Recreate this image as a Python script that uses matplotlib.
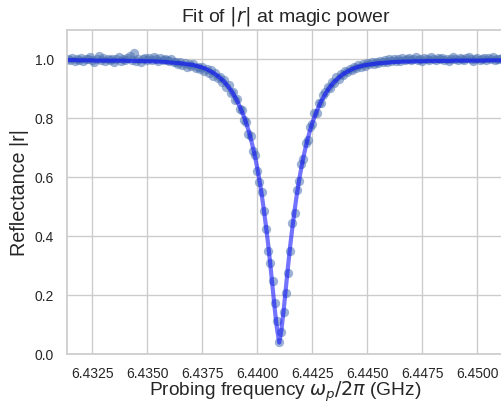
import numpy as np
import matplotlib
matplotlib.use("Agg")
import matplotlib.pyplot as plt
import seaborn as sns

# probing sweep (GHz), 200 points, 100 kHz step
f_start = 6.4314
f_step = 0.0001
n_pts = 200

r_data = [
    1.002, 0.998, 1.004, 0.996, 1.001, 0.999, 1.006, 0.994, 1.003, 1.000,
    1.008, 0.997, 0.993, 1.002, 1.011, 0.999, 1.004, 0.995, 1.001, 0.997,
    1.003, 0.992, 1.000, 1.007, 0.996, 1.002, 0.998, 1.005, 1.013, 0.999,
    1.021, 0.996, 1.003, 0.993, 1.001, 1.006, 0.997, 1.004, 0.999, 1.008,
    1.002, 0.994, 1.005, 0.998, 1.003, 0.999, 0.995, 1.001, 0.993, 0.990,
    0.986, 0.991, 0.982, 0.989, 0.976, 0.985, 0.978, 0.984, 0.971, 0.974,
    0.968, 0.976, 0.962, 0.969, 0.955, 0.963, 0.944, 0.955, 0.936, 0.942,
    0.922, 0.930, 0.905, 0.912, 0.887, 0.889, 0.862, 0.865, 0.832, 0.830,
    0.796, 0.789, 0.748, 0.740, 0.690, 0.677, 0.622, 0.584, 0.552, 0.486,
    0.425, 0.351, 0.310, 0.250, 0.174, 0.112, 0.043, 0.076, 0.144, 0.209,
    0.276, 0.351, 0.445, 0.481, 0.556, 0.588, 0.645, 0.664, 0.716, 0.728,
    0.771, 0.780, 0.817, 0.820, 0.852, 0.853, 0.880, 0.889, 0.907, 0.904,
    0.925, 0.921, 0.940, 0.935, 0.951, 0.947, 0.962, 0.957, 0.969, 0.964,
    0.976, 0.971, 0.981, 0.975, 0.985, 0.979, 0.987, 0.983, 0.990, 0.986,
    0.993, 0.988, 0.996, 0.990, 0.998, 0.991, 1.001, 0.994, 1.000, 0.996,
    1.003, 0.995, 1.006, 0.998, 1.001, 1.004, 0.997, 1.002, 1.008, 0.999,
    1.003, 0.996, 1.005, 1.001, 0.998, 1.007, 1.002, 0.997, 1.004, 1.000,
    1.006, 0.999, 1.003, 0.995, 1.002, 1.008, 1.001, 0.998, 1.005, 1.002,
    0.997, 1.004, 1.009, 1.000, 0.996, 1.003, 1.006, 0.999, 1.002, 1.005,
    0.998, 1.004, 1.001, 1.007, 0.997, 1.003, 1.000, 1.006, 0.999, 1.004,
]

# fitted |r| on the same sweep
r_fit = [
    0.998, 0.998, 0.998, 0.998, 0.997, 0.997, 0.997, 0.997, 0.997, 0.997,
    0.997, 0.997, 0.996, 0.996, 0.996, 0.996, 0.996, 0.996, 0.996, 0.996,
    0.996, 0.996, 0.996, 0.996, 0.996, 0.996, 0.996, 0.995, 0.995, 0.995,
    0.995, 0.995, 0.995, 0.995, 0.995, 0.994, 0.994, 0.994, 0.994, 0.994,
    0.993, 0.993, 0.993, 0.992, 0.992, 0.991, 0.990, 0.989, 0.989, 0.988,
    0.988, 0.987, 0.986, 0.985, 0.984, 0.983, 0.982, 0.981, 0.979, 0.977,
    0.975, 0.973, 0.970, 0.967, 0.963, 0.959, 0.955, 0.950, 0.944, 0.938,
    0.931, 0.924, 0.915, 0.906, 0.896, 0.884, 0.871, 0.857, 0.841, 0.824,
    0.805, 0.784, 0.760, 0.733, 0.703, 0.670, 0.632, 0.590, 0.543, 0.490,
    0.432, 0.370, 0.300, 0.225, 0.150, 0.085, 0.040, 0.085, 0.150, 0.225,
    0.300, 0.370, 0.432, 0.490, 0.543, 0.590, 0.632, 0.670, 0.703, 0.733,
    0.760, 0.784, 0.805, 0.824, 0.841, 0.857, 0.871, 0.884, 0.896, 0.906,
    0.915, 0.924, 0.931, 0.938, 0.944, 0.950, 0.955, 0.959, 0.963, 0.967,
    0.970, 0.973, 0.975, 0.977, 0.979, 0.981, 0.982, 0.983, 0.984, 0.985,
    0.986, 0.987, 0.988, 0.988, 0.989, 0.989, 0.990, 0.991, 0.991, 0.992,
    0.992, 0.992, 0.993, 0.993, 0.993, 0.993, 0.993, 0.994, 0.994, 0.994,
    0.994, 0.994, 0.994, 0.995, 0.995, 0.995, 0.995, 0.995, 0.995, 0.995,
    0.995, 0.995, 0.995, 0.995, 0.995, 0.996, 0.996, 0.996, 0.996, 0.996,
    0.996, 0.996, 0.996, 0.996, 0.996, 0.996, 0.996, 0.996, 0.996, 0.996,
    0.997, 0.997, 0.997, 0.997, 0.997, 0.997, 0.997, 0.997, 0.997, 0.997,
]

x_ticks = [6.4325, 6.4350, 6.4375, 6.4400, 6.4425, 6.4450, 6.4475, 6.4500]
y_ticks = [0.0, 0.2, 0.4, 0.6, 0.8, 1.0]

freq = f_start + f_step * np.arange(n_pts)

sns.set_theme(style="whitegrid")
plt.rcParams['font.family'] = ['Liberation Sans', 'DejaVu Sans']

fig = plt.figure(figsize=(5.01, 4.05), dpi=100)
ax = fig.add_axes([0.134, 0.125, 0.8723, 0.801])

ax.scatter(freq, r_data, s=45, color='#4c72b0', alpha=0.55, linewidths=0)
ax.plot(freq, r_fit, color='blue', lw=3, alpha=0.55)

ax.set_xlim(6.43136, 6.45122)
ax.set_ylim(0, 1.1)
ax.set_xticks(x_ticks)
ax.set_xticklabels(["%.4f" % t for t in x_ticks], fontsize=10)
ax.set_yticks(y_ticks)
ax.set_yticklabels(["%.1f" % t for t in y_ticks], fontsize=10)
ax.tick_params(axis='x', pad=3)

ax.set_xlabel(r'Probing frequency $\omega_p/2\pi$ (GHz)', fontsize=13.8, labelpad=-1)
ax.set_ylabel('Reflectance |r|', fontsize=14.2)
ax.set_title(r'Fit of $|r|$ at magic power', fontsize=14)

fig.savefig('out.png', dpi=100)
